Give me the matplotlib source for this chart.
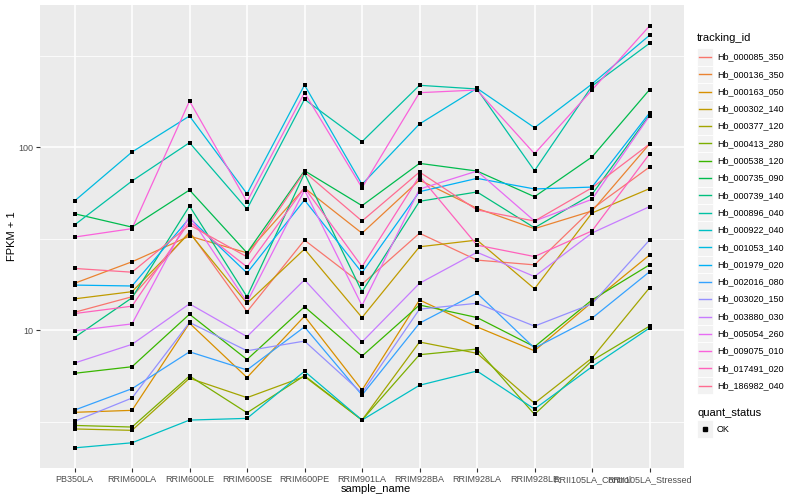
import numpy as np
import pandas as pd
import matplotlib
matplotlib.use('Agg')
import matplotlib.pyplot as plt
from matplotlib.lines import Line2D
from matplotlib.patches import Rectangle

samples = ['PB350LA', 'RRIM600LA', 'RRIM600LE', 'RRIM600SE', 'RRIM600PE', 'RRIM901LA',
           'RRIM928BA', 'RRIM928LA', 'RRIM928LE', 'RRII105LA_Control', 'RRII105LA_Stressed']

tracking_ids = ['Hb_000085_350', 'Hb_000136_350', 'Hb_000163_050', 'Hb_000302_140',
                'Hb_000377_120', 'Hb_000413_280', 'Hb_000538_120', 'Hb_000735_090',
                'Hb_000739_140', 'Hb_000896_040', 'Hb_000922_040', 'Hb_001053_140',
                'Hb_001979_020', 'Hb_002016_080', 'Hb_003020_150', 'Hb_003880_030',
                'Hb_005054_260', 'Hb_009075_010', 'Hb_017491_020', 'Hb_186982_040']

# ggplot default hue palette for 20 groups
colors = ['#F8766D', '#EA8331', '#D89000', '#C09B00', '#A3A500', '#7CAE00', '#39B600',
          '#00BB4E', '#00BF7D', '#00C1A3', '#00BFC4', '#00BAE0', '#00B0F6', '#35A2FF',
          '#9590FF', '#C77CFF', '#E76BF3', '#FA62DB', '#FF62BC', '#FF6C91']

# FPKM + 1, one list per gene, in sample order
hb_000085_350 = [12.5, 15.2, 34.4, 12.6, 31.0, 17.8, 33.8, 24.1, 22.7, 45.8, 77.7]
hb_000136_350 = [18.0, 23.6, 32.6, 26.4, 59.7, 33.8, 66.0, 46.2, 35.8, 44.7, 103.8]
hb_000163_050 = [3.55, 3.64, 10.9, 5.5, 11.9, 4.7, 14.6, 10.4, 7.7, 14.2, 25.7]
hb_000302_140 = [14.8, 16.2, 33.9, 14.0, 27.7, 11.7, 28.5, 31.0, 16.8, 43.6, 59.2]
hb_000377_120 = [2.88, 2.83, 5.45, 4.27, 5.57, 3.22, 8.6, 7.46, 3.98, 7.03, 17.0]
hb_000413_280 = [3.01, 2.95, 5.61, 3.53, 5.63, 3.22, 7.33, 7.87, 3.46, 6.8, 10.5]
hb_000538_120 = [5.8, 6.3, 12.2, 6.9, 13.4, 7.2, 13.7, 11.7, 8.1, 14.6, 22.7]
hb_000735_090 = [43.2, 36.5, 58.2, 26.4, 74.2, 47.8, 81.4, 73.9, 53.5, 88.2, 205.6]
hb_000739_140 = [9.1, 15.0, 47.6, 15.2, 71.8, 16.2, 50.5, 56.8, 36.2, 55.1, 149.6]
hb_000896_040 = [37.5, 65.2, 105.6, 45.8, 182.2, 106.9, 217.4, 207.5, 74.2, 215.4, 368.6]
hb_000922_040 = [2.27, 2.42, 3.22, 3.29, 5.95, 3.22, 4.99, 5.97, 3.70, 6.30, 10.25]
hb_001053_140 = [50.7, 93.9, 147.7, 55.5, 218.2, 62.5, 133.6, 209.3, 127.5, 221.0, 407.8]
hb_001979_020 = [17.6, 17.4, 40.9, 20.5, 51.3, 20.6, 57.0, 67.4, 59.0, 60.4, 153.4]
hb_002016_080 = [3.65, 4.78, 7.6, 6.05, 10.4, 4.41, 10.9, 15.9, 7.97, 11.6, 20.8]
hb_003020_150 = [3.17, 4.25, 11.0, 7.7, 8.7, 4.52, 13.0, 14.0, 10.5, 13.9, 31.0]
hb_003880_030 = [6.6, 8.35, 13.9, 9.2, 18.8, 8.6, 18.0, 26.6, 19.6, 33.9, 47.2]
hb_005054_260 = [9.9, 10.8, 42.0, 14.2, 58.2, 13.6, 58.9, 73.9, 39.4, 51.8, 147.7]
hb_009075_010 = [32.2, 35.8, 178.4, 50.2, 198.1, 59.9, 198.1, 204.9, 91.9, 204.9, 458.5]
hb_017491_020 = [12.3, 13.5, 39.1, 22.1, 59.9, 22.2, 69.4, 29.1, 25.2, 34.8, 91.6]
hb_186982_040 = [21.7, 20.7, 37.5, 25.1, 73.0, 39.4, 73.0, 45.3, 39.4, 59.9, 103.8]

series = [hb_000085_350, hb_000136_350, hb_000163_050, hb_000302_140, hb_000377_120,
          hb_000413_280, hb_000538_120, hb_000735_090, hb_000739_140, hb_000896_040,
          hb_000922_040, hb_001053_140, hb_001979_020, hb_002016_080, hb_003020_150,
          hb_003880_030, hb_005054_260, hb_009075_010, hb_017491_020, hb_186982_040]

rows = []
for tid, vals in zip(tracking_ids, series):
    for s, v in zip(samples, vals):
        rows.append({'tracking_id': tid, 'sample_name': s, 'fpkm1': v})
df = pd.DataFrame(rows)
df['x'] = df['sample_name'].map({s: i for i, s in enumerate(samples)})

W, H = 800, 500
fig = plt.figure(figsize=(8, 5), dpi=100)
ax = fig.add_axes([40 / W, 1 - 468 / H, (684 - 40) / W, (468 - 5) / H])
ax.set_facecolor('#EBEBEB')

for tid, col in zip(tracking_ids, colors):
    d = df[df['tracking_id'] == tid]
    ax.plot(d['x'], d['fpkm1'], color=col, lw=0.9, zorder=2)
ax.scatter(df['x'], df['fpkm1'], color='black', marker='s', s=6, zorder=3, linewidths=0)

ax.set_yscale('log')
ax.set_ylim(10 ** 0.246, 10 ** 2.776)
ax.set_xlim(-0.6, len(samples) - 1 + 0.6)
ax.set_yticks([10, 100])
ax.set_yticklabels(['10', '100'])
ax.set_yticks([10 ** 0.5, 10 ** 1.5, 10 ** 2.5], minor=True)
ax.yaxis.set_minor_formatter(matplotlib.ticker.NullFormatter())
ax.set_xticks(range(len(samples)))
ax.set_xticklabels(samples)
ax.tick_params(which='major', length=3, width=0.8, color='#333333', labelsize=6.5,
               labelcolor='#4D4D4D', pad=2)
ax.tick_params(which='minor', length=0)
ax.grid(which='major', color='white', lw=1.1)
ax.grid(which='minor', color='white', lw=0.55)
ax.set_axisbelow(True)
for sp in ax.spines.values():
    sp.set_visible(False)

for lab in ax.get_xticklabels() + ax.get_yticklabels():
    lab.set_family('Liberation Sans')

fig.text(376 / W, 1 - 489 / H, 'sample_name', ha='center', va='center', fontsize=8,
         family='Liberation Sans')
fig.text(12 / W, 1 - 236 / H, 'FPKM + 1', ha='center', va='center', rotation=90,
         fontsize=8, family='Liberation Sans')

# legend drawn by hand, ggplot style
def fx(px):
    return px / W

def fy(py):
    return 1 - py / H

fig.text(fx(697), fy(38), 'tracking_id', ha='left', va='center', fontsize=8,
         family='Liberation Sans')
step = 17.3
for i, (tid, col) in enumerate(zip(tracking_ids, colors)):
    yc = 57 + i * step
    fig.add_artist(Rectangle((fx(697), fy(yc + step / 2)), 16 / W, step / H,
                             transform=fig.transFigure, facecolor='#F2F2F2',
                             edgecolor='white', lw=0.6))
    fig.add_artist(Line2D([fx(699), fx(711)], [fy(yc), fy(yc)], color=col, lw=1.0,
                          transform=fig.transFigure))
    fig.text(fx(717), fy(yc), tid, ha='left', va='center', fontsize=6.5,
             family='Liberation Sans')

fig.text(fx(697), fy(413), 'quant_status', ha='left', va='center', fontsize=8,
         family='Liberation Sans')
fig.add_artist(Rectangle((fx(697), fy(429 + step / 2)), 16 / W, step / H,
                         transform=fig.transFigure, facecolor='#F2F2F2',
                         edgecolor='white', lw=0.6))
fig.add_artist(Line2D([fx(705)], [fy(429)], marker='s', markersize=2.6, color='black',
                      lw=0, transform=fig.transFigure))
fig.text(fx(717), fy(429), 'OK', ha='left', va='center', fontsize=6.5,
         family='Liberation Sans')

fig.savefig('out.png', dpi=100)
